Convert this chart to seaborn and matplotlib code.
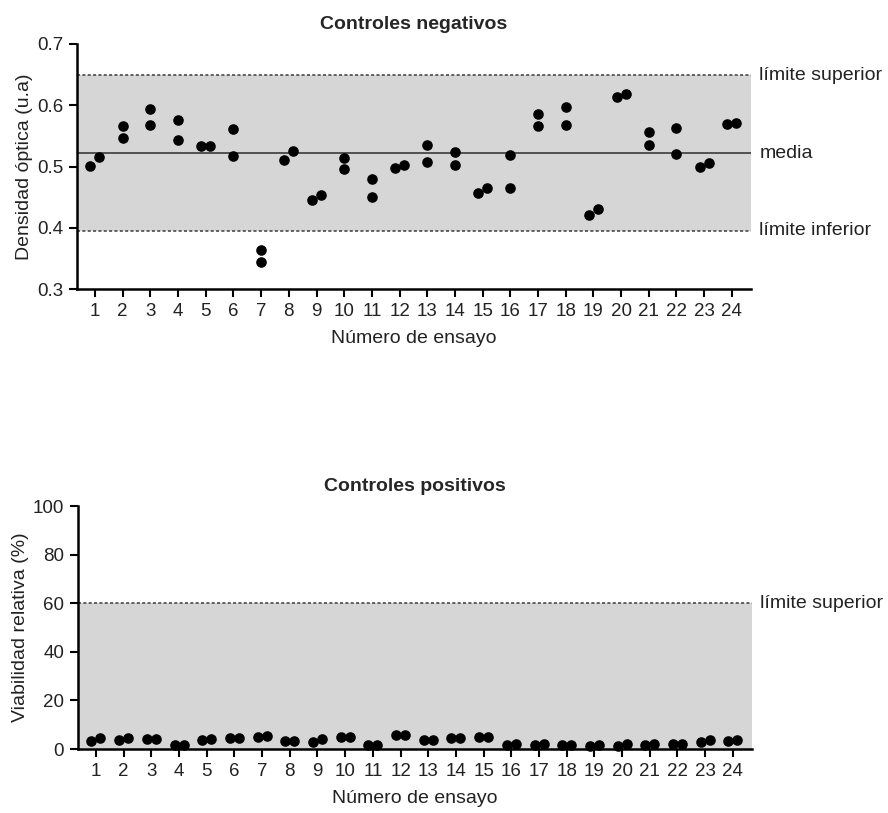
import numpy as np
import pandas as pd
import matplotlib
matplotlib.use("Agg")
import matplotlib.pyplot as plt
import seaborn as sns

sns.set_theme(style="ticks")
plt.rcParams["font.family"] = ["Liberation Sans", "DejaVu Sans"]

# Trial numbers (24 assays, duplicate wells each)
ensayos = list(range(1, 25))

# Negative controls: optical density, replicate A and B
neg_a = [0.501, 0.566, 0.594, 0.576, 0.533, 0.561, 0.363, 0.511, 0.445, 0.514, 0.480, 0.498,
         0.535, 0.524, 0.456, 0.519, 0.585, 0.597, 0.421, 0.613, 0.557, 0.563, 0.500, 0.570]
neg_b = [0.516, 0.547, 0.568, 0.543, 0.534, 0.517, 0.344, 0.526, 0.454, 0.496, 0.450, 0.503,
         0.508, 0.502, 0.465, 0.465, 0.566, 0.568, 0.431, 0.618, 0.535, 0.521, 0.505, 0.571]
neg_media = 0.522
neg_lim_sup = 0.649
neg_lim_inf = 0.395

# Positive controls: relative viability (%), replicate A and B
pos_a = [3.2, 3.7, 4.0, 1.5, 3.7, 4.4, 4.8, 3.2, 3.0, 4.9, 1.6, 5.6,
         3.6, 4.4, 4.9, 1.5, 1.6, 1.6, 1.4, 1.4, 1.8, 1.9, 2.7, 3.4]
pos_b = [4.4, 4.4, 4.1, 1.6, 4.1, 4.4, 5.3, 3.2, 4.1, 4.9, 1.8, 5.8,
         3.6, 4.7, 4.9, 2.1, 2.1, 1.6, 1.5, 2.1, 2.1, 1.9, 3.6, 3.8]
pos_lim_sup = 60

FS = 14
TFS = 13.5
SHADE = "#d6d6d6"
LINE = "#3a3a3a"
DOT_PX = 10.6         # marker diameter in pixels
SIDE_PX = 9.0         # centre distance of side-by-side duplicates
DOT_S = (DOT_PX * 72 / 100) ** 2

fig = plt.figure(figsize=(8.88, 8.13), dpi=100)
ax1 = fig.add_axes([0.0867, 0.6445, 0.759, 0.3014])
ax2 = fig.add_axes([0.0878, 0.0787, 0.759, 0.2989])


def pair_layout(ax, a_vals, b_vals):
    """Stack duplicates vertically, or set them side by side when they would overlap."""
    bbox = ax.get_window_extent()
    x0, x1 = ax.get_xlim()
    y0, y1 = ax.get_ylim()
    px_x = bbox.width / (x1 - x0)
    px_y = bbox.height / (y1 - y0)
    half = 0.5 * SIDE_PX / px_x
    xs, ys = [], []
    for t, a, b in zip(ensayos, a_vals, b_vals):
        if abs(a - b) * px_y < 10.5:
            lo, hi = (a, b) if a <= b else (b, a)
            xs += [t - half, t + half]
            ys += [lo, hi]
        else:
            xs += [t, t]
            ys += [a, b]
    return pd.DataFrame({"ensayo": xs, "valor": ys})


def style_axes(ax, title, ylabel):
    for s in ["top", "right"]:
        ax.spines[s].set_visible(False)
    for s in ["left", "bottom"]:
        ax.spines[s].set_linewidth(1.8)
        ax.spines[s].set_color("black")
    ax.set_xticks(ensayos)
    ax.set_xticklabels([str(t) for t in ensayos])
    ax.tick_params(axis="both", length=6, width=1.5, labelsize=TFS, color="black",
                   labelcolor="#222222", pad=4)
    ax.set_title(title, fontsize=FS, fontweight="bold", pad=11)
    ax.set_ylabel(ylabel, fontsize=FS, labelpad=3, color="#222222")
    ax.set_xlabel("Número de ensayo", fontsize=FS, labelpad=7, color="#222222")
    ax.set_facecolor("white")


# --- Controles negativos ---
ax1.set_xlim(0.35, 24.69)
ax1.set_ylim(0.3, 0.7)
ax1.axhspan(neg_lim_inf, neg_lim_sup, color=SHADE, lw=0, zorder=0)
ax1.axhline(neg_lim_sup, color=LINE, ls=(0, (2, 1.5)), lw=1.1, zorder=1)
ax1.axhline(neg_lim_inf, color=LINE, ls=(0, (2, 1.5)), lw=1.1, zorder=1)
ax1.axhline(neg_media, color=LINE, ls="-", lw=1.2, zorder=1)
neg_df = pair_layout(ax1, neg_a, neg_b)
sns.scatterplot(data=neg_df, x="ensayo", y="valor", color="black", s=DOT_S,
                linewidth=0, ax=ax1, zorder=3, legend=False)
ax1.set_xlim(0.35, 24.69)
ax1.set_ylim(0.3, 0.7)
ax1.set_yticks([0.3, 0.4, 0.5, 0.6, 0.7])
ax1.set_yticklabels(["0.3", "0.4", "0.5", "0.6", "0.7"])
style_axes(ax1, "Controles negativos", "Densidad óptica (u.a)")
for y, txt in [(neg_lim_sup, "límite superior"), (neg_media, "media"),
               (neg_lim_inf, "límite inferior")]:
    ax1.annotate(txt, xy=(1, y), xycoords=("axes fraction", "data"),
                 xytext=(6, 0), textcoords="offset points",
                 va="center", ha="left", fontsize=FS, color="#222222")

# --- Controles positivos ---
ax2.set_xlim(0.35, 24.69)
ax2.set_ylim(0, 100)
ax2.axhspan(0, pos_lim_sup, color=SHADE, lw=0, zorder=0)
ax2.axhline(pos_lim_sup, color=LINE, ls=(0, (2, 1.5)), lw=1.1, zorder=1)
pos_df = pair_layout(ax2, pos_a, pos_b)
sns.scatterplot(data=pos_df, x="ensayo", y="valor", color="black", s=DOT_S,
                linewidth=0, ax=ax2, zorder=3, legend=False, clip_on=False)
ax2.set_xlim(0.35, 24.69)
ax2.set_ylim(0, 100)
ax2.set_yticks([0, 20, 40, 60, 80, 100])
style_axes(ax2, "Controles positivos", "Viabilidad relativa (%)")
ax2.annotate("límite superior", xy=(1, pos_lim_sup), xycoords=("axes fraction", "data"),
             xytext=(6, 0), textcoords="offset points",
             va="center", ha="left", fontsize=FS, color="#222222")

fig.savefig("out.png", dpi=100)
